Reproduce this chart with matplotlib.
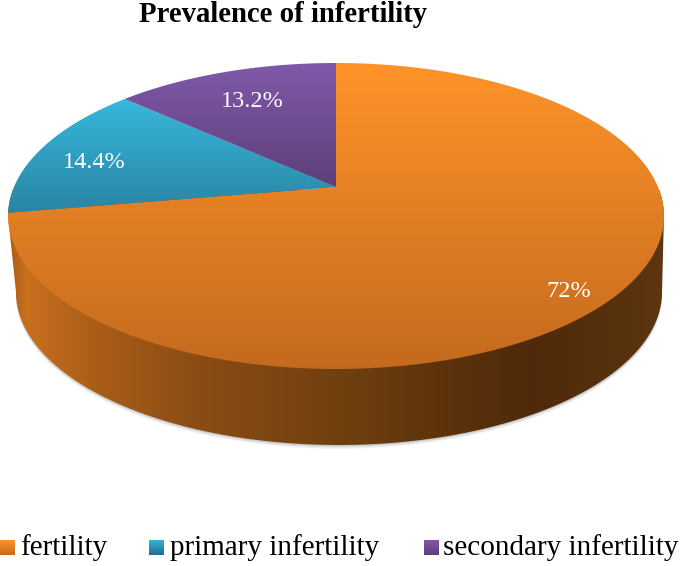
import numpy as np
import matplotlib
matplotlib.use("Agg")
import matplotlib.pyplot as plt
from matplotlib.patches import Polygon, Rectangle
from matplotlib.colors import LinearSegmentedColormap

plt.rcParams['font.family'] = ['Liberation Serif', 'DejaVu Serif']

categories = ["fertility", "primary infertility", "secondary infertility"]
values = [72.0, 14.4, 13.2]
value_labels = ["72%", "14.4%", "13.2%"]
title = "Prevalence of infertility"

top_colors = [("#FF9329", "#C46A1E"), ("#36B8DC", "#2A84A3"), ("#8059AA", "#5C3F78")]
swatch_colors = [("#FF9329", "#C46A1E"), ("#34B4D8", "#1F6E8C"), ("#8059AA", "#5C3F78")]
side_x = [8, 25, 100, 200, 340, 450, 530, 600, 665]
side_c = ["#A85C18", "#C8701E", "#A85C18", "#8A4C14", "#70400F", "#5C320C", "#4F2A0A", "#54300C", "#5E3610"]

W, H = 685, 566
fig = plt.figure(figsize=(W / 100, H / 100), dpi=100)
ax = fig.add_axes([0, 0, 1, 1])

cx, cy, k, a, b = 336.0, 187.0, 0.1895, 147.5, 322.0
depth_dx, depth_dy, depth_scale = 3, 76, 0.985


def project(theta, scale=1.0, dx=0.0, dy=0.0):
    u, v = np.cos(theta), np.sin(theta)
    d = 1 + k * v
    return cx + dx + scale * b * u / d, cy + dy - a * v / d


def grad(clip, colors, extent):
    cmap = LinearSegmentedColormap.from_list("g", colors)
    g = np.linspace(0, 1, 256)[:, None]
    im = ax.imshow(g, cmap=cmap, extent=extent, aspect="auto", origin="upper",
                   interpolation="bilinear", zorder=clip.get_zorder())
    ax.add_patch(clip)
    im.set_clip_path(clip)


ext = np.arcsin(k)
t_all = np.linspace(0, 2 * np.pi, 721)
xb, yb = project(t_all, depth_scale, depth_dx, depth_dy)

# soft shadow below the disc
for off, al in [(4, 0.05), (3, 0.07), (2, 0.10), (1, 0.14)]:
    ax.add_patch(Polygon(np.c_[xb, yb + off], closed=True, fc="#555555", ec="none", alpha=al, zorder=1))

# side wall: silhouette of the upper rim and the lower rim
t_back = np.linspace(-ext, np.pi + ext, 361)
t_front = np.linspace(np.pi + ext, 2 * np.pi - ext, 361)
xu, yu = project(t_back)
xl, yl = project(t_front, depth_scale, depth_dx, depth_dy)
sil = np.r_[np.c_[xu, yu], np.c_[xl, yl]]
rgb = [matplotlib.colors.to_rgb(c) for c in side_c]
pos = [(x - side_x[0]) / (side_x[-1] - side_x[0]) for x in side_x]
side_cmap = LinearSegmentedColormap.from_list("side", list(zip(pos, rgb)))
im = ax.imshow(np.linspace(0, 1, 512)[None, :], cmap=side_cmap, aspect="auto",
               extent=(side_x[0], side_x[-1], 460, 190), zorder=2, interpolation="bilinear")
clip = Polygon(sil, closed=True, fc="none", ec="none", zorder=2)
ax.add_patch(clip)
im.set_clip_path(clip)

# top face wedges, clockwise from 12 o'clock
total = sum(values)
start = np.pi / 2
for val, cols in zip(values, top_colors):
    end = start - 2 * np.pi * val / total
    th = np.linspace(start, end, 400)
    x, y = project(th)
    poly = np.r_[[[cx, cy]], np.c_[x, y]]
    p = Polygon(poly, closed=True, fc="none", ec="none", zorder=3)
    grad(p, cols, (0, W, poly[:, 1].max(), poly[:, 1].min()))
    start = end

# value labels
label_xy = [(569, 297), (94, 168), (252, 107)]
for (lx, ly), s in zip(label_xy, value_labels):
    ax.text(lx, ly, s, color="white", fontsize=17.5, ha="center", va="baseline", zorder=5)

ax.text(283, 22, title, fontsize=20.7, fontweight="bold", ha="center", va="baseline", color="black")

# legend
swatch_x = [0, 149, 424]
text_x = [20, 170, 443]
for sx, tx, name, cols in zip(swatch_x, text_x, categories, swatch_colors):
    p = Rectangle((sx, 540), 15, 15, fc="none", ec="none", zorder=3)
    grad(p, cols, (sx, sx + 15, 555, 540))
    ax.text(tx, 555, name, fontsize=21, ha="left", va="baseline", color="black")

ax.set_xlim(0, W)
ax.set_ylim(H, 0)
ax.axis("off")
fig.savefig("out.png", dpi=100, facecolor="white")
